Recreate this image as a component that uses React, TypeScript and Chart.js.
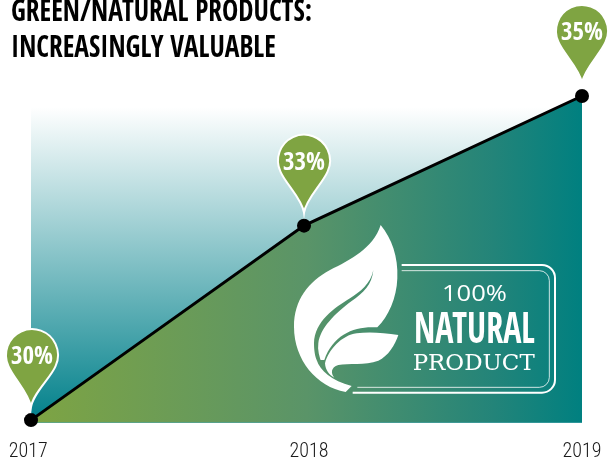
import React, { useEffect, useRef } from "react";
import { Chart, registerables } from "chart.js";

Chart.register(...registerables);

const titleLines = ["GREEN/NATURAL PRODUCTS:", "INCREASINGLY VALUABLE"];
const years = ["2017", "2018", "2019"];
const tickYears = [2016.99, 2018.009, 2019];
const pointYears = [2017, 2017.991, 2019];
const shareValues = [30, 33, 35];
const pinLabels = ["30%", "33%", "35%"];
const badgeTop = "100%";
const badgeMain = "NATURAL";
const badgeBottom = "PRODUCT";

const NARROW = '"Open Sans Condensed", "Roboto Condensed", sans-serif';
const THIN = '"Roboto Condensed", sans-serif';
const GREEN = "#7fa442";
const TEAL = "#008080";

function areaGradient(chart: any) {
  const a = chart.chartArea;
  const g = chart.ctx.createLinearGradient(a.left, 0, a.right, 0);
  g.addColorStop(0, "#7ea443");
  g.addColorStop(0.5, "#5a9468");
  g.addColorStop(0.84, "#238479");
  g.addColorStop(1, TEAL);
  return g;
}

const backdrop = {
  id: "backdrop",
  beforeDatasetsDraw(chart: any) {
    const { ctx, chartArea: a } = chart;
    const top = a.top + 11;
    const g = ctx.createLinearGradient(0, top, 0, a.bottom);
    g.addColorStop(0, "#ffffff");
    g.addColorStop(1, "#00808a");
    ctx.save();
    ctx.fillStyle = g;
    ctx.fillRect(a.left, top, a.right - a.left, a.bottom - top);
    ctx.restore();
  },
};

// The reference's title face is narrower than any installed one: squeeze the title block.
const titleSqueeze = {
  id: "titleSqueeze",
  afterLayout(chart: any) {
    const t = chart.titleBlock;
    if (!t || t.__squeezed) return;
    t.__squeezed = true;
    const draw = t.draw;
    t.draw = function () {
      const { ctx } = chart;
      ctx.save();
      ctx.translate(11, 0);
      ctx.scale(0.883, 1);
      ctx.translate(-11, 0);
      draw.call(t);
      ctx.restore();
    };
  },
};

const pins = {
  id: "pins",
  afterDatasetsDraw(chart: any) {
    const { ctx } = chart;
    const els = chart.getDatasetMeta(0).data;
    els.forEach((el: any, i: number) => {
      const r = 26;
      const cx = el.x + (i === 0 ? 1 : 0);
      const cy = el.y - 65;
      const tipY = el.y - 13;
      const tipX = el.x;
      const a0 = (25 * Math.PI) / 180;
      const sx = Math.cos(a0) * r;
      const sy = Math.sin(a0) * r;
      ctx.save();
      ctx.beginPath();
      ctx.arc(cx, cy, r, Math.PI - a0, a0, false);
      ctx.bezierCurveTo(cx + sx - 5, cy + sy + 12, tipX + 2, tipY - 14, tipX, tipY);
      ctx.bezierCurveTo(tipX - 2, tipY - 14, cx - sx + 5, cy + sy + 12, cx - sx, cy + sy);
      ctx.closePath();
      ctx.fillStyle = GREEN;
      ctx.strokeStyle = "#ffffff";
      ctx.lineWidth = 2;
      ctx.fill();
      ctx.stroke();
      ctx.fillStyle = "#ffffff";
      ctx.font = "bold 25px " + NARROW;
      ctx.textAlign = "center";
      ctx.textBaseline = "alphabetic";
      ctx.fillText(pinLabels[i], cx, cy + 9);
      ctx.restore();
    });
  },
};

function fitText(ctx: any, text: string, left: number, width: number, baseline: number) {
  const w = ctx.measureText(text).width;
  ctx.save();
  ctx.translate(left, baseline);
  ctx.scale(width / w, 1);
  ctx.textAlign = "left";
  ctx.textBaseline = "alphabetic";
  ctx.fillText(text, 0, 0);
  ctx.restore();
}

const badge = {
  id: "badge",
  afterDatasetsDraw(chart: any) {
    const { ctx } = chart;
    const X = (z: number) => 280 + z / 3;
    const Y = (z: number) => 210 + z / 3;
    const M = (x: number, y: number) => ctx.moveTo(X(x), Y(y));
    const L = (x: number, y: number) => ctx.lineTo(X(x), Y(y));
    const C = (a: number, b: number, c: number, d: number, e: number, f: number) =>
      ctx.bezierCurveTo(X(a), Y(b), X(c), Y(d), X(e), Y(f));
    ctx.save();
    ctx.fillStyle = "#ffffff";
    ctx.strokeStyle = "#ffffff";

    // big leaf
    ctx.beginPath();
    M(302, 45);
    C(335, 85, 355, 140, 352, 205);
    C(350, 265, 325, 320, 292, 352);
    C(225, 347, 160, 372, 133, 450);
    L(110, 450);
    C(120, 482, 155, 512, 215, 528);
    L(197, 546);
    C(110, 530, 42, 450, 42, 350);
    C(42, 270, 85, 215, 150, 180);
    C(210, 150, 280, 115, 302, 45);
    ctx.closePath();
    ctx.fill();

    // vein, cut with the area's own gradient
    ctx.fillStyle = areaGradient(chart);
    ctx.beginPath();
    M(280, 180);
    C(272, 222, 240, 245, 210, 265);
    C(165, 292, 103, 335, 102, 400);
    C(102, 420, 105, 440, 110, 450);
    L(125, 460);
    C(118, 440, 112, 420, 115, 400);
    C(120, 355, 165, 310, 215, 273);
    C(250, 248, 276, 225, 280, 180);
    ctx.closePath();
    ctx.fill();

    // small leaf
    ctx.fillStyle = "#ffffff";
    ctx.beginPath();
    M(355, 375);
    C(310, 368, 265, 365, 230, 370);
    C(185, 376, 145, 420, 135, 460);
    C(136, 480, 148, 495, 163, 503);
    C(152, 490, 152, 472, 175, 465);
    C(205, 458, 255, 468, 295, 452);
    C(325, 438, 345, 405, 355, 375);
    ctx.closePath();
    ctx.fill();

    // frame
    ctx.lineWidth = 2;
    ctx.beginPath();
    M(365, 165);
    ctx.arcTo(X(825), Y(165), X(825), Y(548), 13);
    ctx.arcTo(X(825), Y(548), X(218), Y(548), 13);
    L(218, 548);
    ctx.stroke();
    ctx.lineWidth = 0.8;
    ctx.beginPath();
    M(365, 182);
    ctx.arcTo(X(808), Y(182), X(808), Y(532), 10);
    ctx.arcTo(X(808), Y(532), X(232), Y(532), 10);
    L(232, 532);
    ctx.stroke();

    // words
    ctx.font = '21px "Open Sans", sans-serif';
    fitText(ctx, badgeTop, X(486), 65, Y(273));
    ctx.font = "bold 43px " + NARROW;
    fitText(ctx, badgeMain, X(402), 121, Y(400));
    ctx.font = '22px "DejaVu Serif", serif';
    fitText(ctx, badgeBottom, X(398), 122, Y(480));
    ctx.restore();
  },
};

export default function App() {
  const ref = useRef<HTMLCanvasElement>(null);
  useEffect(() => {
    const chart = new Chart(ref.current as any, {
      type: "line",
      data: {
        datasets: [
          {
            data: pointYears.map((x, i) => ({ x, y: shareValues[i] })),
            borderColor: "#000000",
            borderWidth: 3,
            tension: 0,
            pointRadius: 7,
            pointBackgroundColor: "#000000",
            pointBorderColor: "#000000",
            pointBorderWidth: 0,
            fill: "start",
            clip: false,
            backgroundColor: (c: any) => (c.chart.chartArea ? areaGradient(c.chart) : TEAL),
          } as any,
        ],
      },
      options: {
        animation: false,
        responsive: false,
        devicePixelRatio: 1,
        layout: { padding: { left: 11, right: 33, top: 0, bottom: 0 } },
        plugins: {
          legend: { display: false },
          tooltip: { enabled: false },
          title: {
            display: true,
            text: titleLines,
            align: "start",
            color: "#000000",
            font: { family: NARROW, size: 31, weight: "bold", lineHeight: 36 / 31 },
            padding: { top: -5, bottom: 29 },
          },
        },
        scales: {
          x: {
            type: "linear",
            min: 2017,
            max: 2019,
            grid: { display: false },
            border: { display: false },
            afterBuildTicks: (axis: any) => {
              axis.ticks = tickYears.map((value) => ({ value }));
            },
            afterFit: (axis: any) => {
              axis.height = 39.3;
              axis.paddingLeft = 0;
              axis.paddingRight = 0;
            },
            ticks: {
              autoSkip: false,
              maxRotation: 0,
              padding: 9,
              color: "#1a1a1a",
              font: { family: THIN, size: 20, weight: "300" },
              callback: (_v: any, i: number) => years[i],
            },
          },
          y: {
            min: 29.96,
            max: 35,
            grid: { display: false },
            border: { display: false },
            ticks: { display: false },
            afterFit: (axis: any) => {
              axis.width = 20;
            },
          },
        },
      } as any,
      plugins: [titleSqueeze, backdrop, pins, badge],
    });
    return () => chart.destroy();
  }, []);
  return (
    <div style={{ position: "absolute", left: 0, top: 0, width: 615, height: 462 }}>
      <canvas ref={ref} width={615} height={462} />
    </div>
  );
}
